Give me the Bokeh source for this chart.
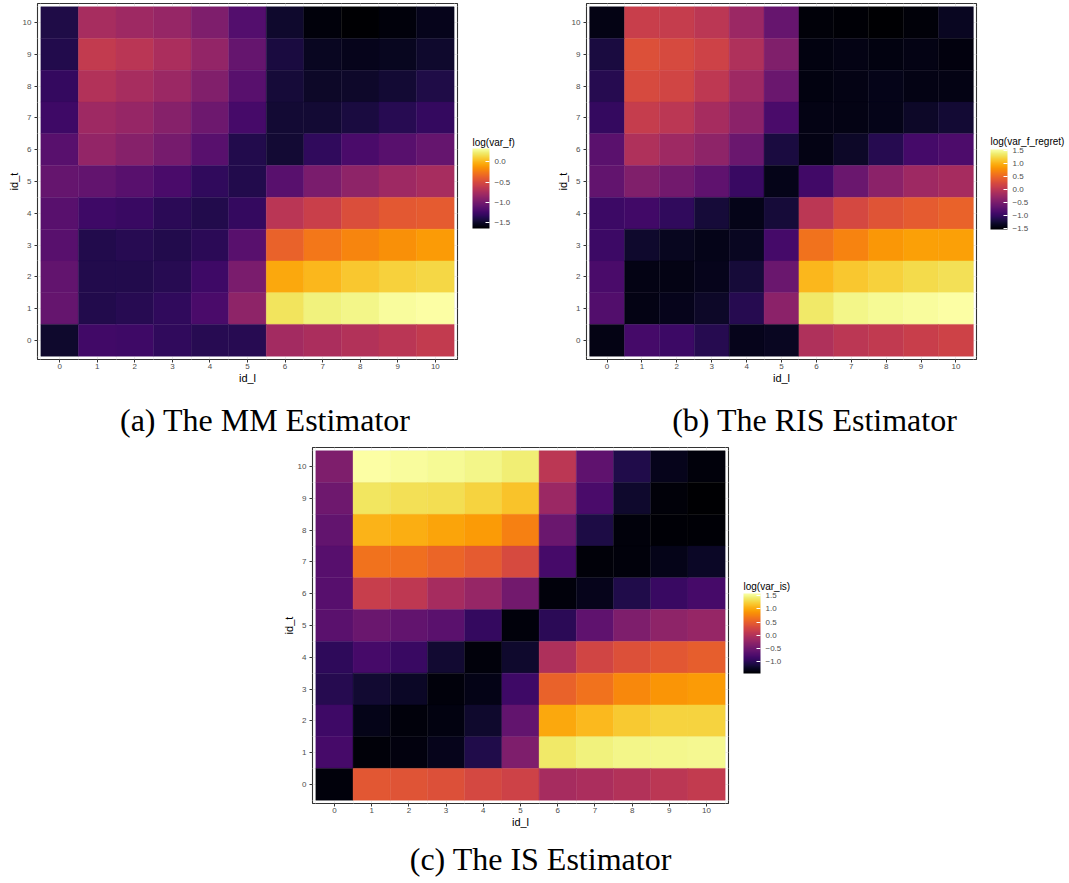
from bokeh.plotting import figure
from bokeh.models import (LinearColorMapper, ColorBar, FixedTicker, ColumnDataSource,
                          Div, Spacer, CustomJSTickFormatter, Label)
from bokeh.layouts import column, row
from bokeh.palettes import Inferno256
from bokeh.transform import transform
from bokeh.embed import file_html
from bokeh.resources import INLINE

id_l = list(range(11))
id_t_rows = list(range(10, -1, -1))  # rows listed from id_t = 10 down to 0

# log(var_f) -- MM estimator
mm_vals = [
    [-1.41, -0.76, -0.80, -0.84, -0.96, -1.17, -1.49, -1.61, -1.65, -1.61, -1.55],
    [-1.39, -0.62, -0.66, -0.74, -0.86, -1.08, -1.43, -1.53, -1.55, -1.54, -1.49],
    [-1.31, -0.70, -0.76, -0.82, -0.94, -1.14, -1.45, -1.51, -1.50, -1.47, -1.41],
    [-1.27, -0.80, -0.84, -0.92, -1.04, -1.23, -1.47, -1.47, -1.43, -1.37, -1.31],
    [-1.14, -0.86, -0.92, -1.00, -1.14, -1.39, -1.47, -1.33, -1.21, -1.14, -1.08],
    [-1.08, -1.10, -1.14, -1.21, -1.33, -1.39, -1.14, -0.98, -0.88, -0.80, -0.76],
    [-1.14, -1.27, -1.29, -1.35, -1.39, -1.31, -0.66, -0.58, -0.48, -0.42, -0.40],
    [-1.14, -1.39, -1.37, -1.39, -1.35, -1.14, -0.36, -0.26, -0.20, -0.15, -0.11],
    [-1.10, -1.39, -1.39, -1.37, -1.27, -0.98, -0.05, 0.01, 0.07, 0.11, 0.13],
    [-1.08, -1.39, -1.37, -1.33, -1.21, -0.88, 0.19, 0.25, 0.27, 0.31, 0.33],
    [-1.49, -1.25, -1.27, -1.33, -1.37, -1.37, -0.78, -0.74, -0.70, -0.66, -0.62],
]

# log(var_f_regret) -- RIS estimator
ris_vals = [
    [-1.43, 0.12, 0.09, 0.00, -0.25, -0.65, -1.49, -1.52, -1.55, -1.50, -1.36],
    [-1.21, 0.31, 0.25, 0.16, -0.09, -0.46, -1.46, -1.44, -1.46, -1.43, -1.47],
    [-1.12, 0.25, 0.19, 0.03, -0.22, -0.62, -1.46, -1.44, -1.41, -1.43, -1.43],
    [-1.02, 0.09, 0.00, -0.16, -0.37, -0.87, -1.44, -1.43, -1.41, -1.33, -1.27],
    [-0.74, -0.09, -0.22, -0.34, -0.62, -1.21, -1.43, -1.33, -1.12, -0.90, -0.84],
    [-0.68, -0.46, -0.56, -0.71, -0.99, -1.41, -0.93, -0.62, -0.37, -0.22, -0.16],
    [-0.96, -0.93, -1.05, -1.24, -1.41, -1.24, 0.00, 0.22, 0.34, 0.40, 0.47],
    [-0.96, -1.30, -1.38, -1.41, -1.36, -0.90, 0.59, 0.71, 0.84, 0.90, 0.90],
    [-0.87, -1.43, -1.43, -1.40, -1.24, -0.62, 1.05, 1.15, 1.21, 1.27, 1.30],
    [-0.81, -1.43, -1.40, -1.33, -1.12, -0.37, 1.36, 1.46, 1.49, 1.52, 1.55],
    [-1.43, -0.90, -0.96, -1.12, -1.40, -1.36, -0.09, 0.00, 0.06, 0.12, 0.16],
]

# log(var_is) -- IS estimator
is_vals = [
    [-0.39, 1.58, 1.55, 1.53, 1.49, 1.43, 0.07, -0.63, -1.06, -1.30, -1.39],
    [-0.51, 1.37, 1.34, 1.32, 1.25, 1.16, -0.18, -0.78, -1.21, -1.40, -1.45],
    [-0.60, 1.06, 1.03, 0.97, 0.91, 0.73, -0.54, -1.09, -1.39, -1.42, -1.42],
    [-0.69, 0.64, 0.61, 0.55, 0.46, 0.31, -0.81, -1.40, -1.39, -1.31, -1.24],
    [-0.69, 0.16, 0.10, -0.09, -0.21, -0.48, -1.39, -1.30, -1.06, -0.90, -0.81],
    [-0.66, -0.54, -0.60, -0.66, -0.93, -1.39, -1.00, -0.63, -0.39, -0.27, -0.21],
    [-0.97, -0.81, -0.90, -1.18, -1.39, -1.21, -0.03, 0.25, 0.37, 0.43, 0.49],
    [-1.03, -1.18, -1.24, -1.39, -1.33, -0.87, 0.52, 0.64, 0.79, 0.88, 0.91],
    [-0.87, -1.31, -1.39, -1.36, -1.21, -0.60, 1.00, 1.10, 1.19, 1.25, 1.26],
    [-0.81, -1.40, -1.37, -1.30, -1.06, -0.39, 1.40, 1.46, 1.49, 1.50, 1.52],
    [-1.39, 0.43, 0.40, 0.37, 0.28, 0.22, -0.09, -0.06, 0.00, 0.07, 0.13],
]

mm_ticks = [-1.5, -1.0, -0.5, 0.0]
ris_ticks = [-1.5, -1.0, -0.5, 0.0, 0.5, 1.0, 1.5]
is_ticks = [-1.0, -0.5, 0.0, 0.5, 1.0, 1.5]

captions = ["(a) The MM Estimator", "(b) The RIS Estimator", "(c) The IS Estimator"]

SANS = "Liberation Sans"


def heat(vals, width, height, mbl, mbr, mbt, mbb):
    xs, ys, vs = [], [], []
    for r, t in enumerate(id_t_rows):
        for c, l in enumerate(id_l):
            xs.append(l)
            ys.append(t)
            vs.append(vals[r][c])
    src = ColumnDataSource(dict(x=xs, y=ys, v=vs))
    mapper = LinearColorMapper(palette=Inferno256, low=min(vs), high=max(vs))
    p = figure(width=width, height=height, x_range=(-0.59, 10.59), y_range=(-0.605, 10.605),
               output_backend="svg", toolbar_location=None,
               min_border_left=mbl, min_border_right=mbr, min_border_top=mbt, min_border_bottom=mbb)
    p.rect('x', 'y', width=1, height=1, source=src,
           fill_color=transform('v', mapper), line_color=transform('v', mapper), line_width=0.4)
    for ax, lab in ((p.xaxis[0], "id_l"), (p.yaxis[0], "id_t")):
        ax.ticker = FixedTicker(ticks=id_l, minor_ticks=[i + 0.5 for i in range(-1, 11)])
        ax.axis_label = lab
        ax.axis_label_text_font = SANS
        ax.axis_label_text_font_size = "11px"
        ax.axis_label_text_font_style = "normal"
        ax.axis_label_text_color = "#000000"
        ax.axis_label_standoff = 0
        ax.major_label_text_font = SANS
        ax.major_label_text_font_size = "8px"
        ax.major_label_text_color = "#4d4d4d"
        ax.major_tick_line_color = "#333333"
        ax.major_tick_out = 3
        ax.major_tick_in = 0
        ax.minor_tick_line_color = None
        ax.axis_line_color = None
    p.xaxis[0].major_label_standoff = 0
    p.yaxis[0].major_label_standoff = 2
    p.grid.grid_line_color = "#ebebeb"
    p.grid.minor_grid_line_color = "#f4f4f4"
    p.outline_line_color = "#333333"
    p.outline_line_width = 1.1
    p.background_fill_color = "white"
    p.border_fill_color = "white"
    return p, mapper


def legend_fig(mapper, legend_title, ticks, width, height, cb_loc, title_loc):
    q = figure(width=width, height=height, x_range=(0, 1), y_range=(0, 1),
               output_backend="svg", toolbar_location=None,
               x_axis_location=None, y_axis_location=None,
               min_border_left=0, min_border_right=0, min_border_top=0, min_border_bottom=0)
    q.grid.visible = False
    q.outline_line_color = None
    q.background_fill_color = "white"
    q.border_fill_color = "white"
    fmt = CustomJSTickFormatter(code="return (tick < 0 ? '\\u2212' : '') + Math.abs(tick).toFixed(1);")
    cb = ColorBar(color_mapper=mapper, ticker=FixedTicker(ticks=ticks), formatter=fmt,
                  width=17, height=80, title=None,
                  major_label_text_font=SANS, major_label_text_font_size="8px",
                  major_label_text_color="#4d4d4d", label_standoff=5,
                  major_tick_line_color="white", major_tick_in=4, major_tick_out=0,
                  minor_tick_line_color=None, bar_line_color=None,
                  padding=0, location=cb_loc, background_fill_color=None)
    q.add_layout(cb, "center")
    lbl = Label(x=title_loc[0], y=title_loc[1], x_units="screen", y_units="screen",
                text=legend_title, text_font=SANS, text_font_size="10px",
                text_color="#000000", text_baseline="alphabetic", text_align="left")
    q.add_layout(lbl)
    return q


fa, ma = heat(mm_vals, 460, 395, 37, 3, 3, 36)
la = legend_fig(ma, "log(var_f)", mm_ticks, 85, 395, (12, 131), (12, 217))
fb, mb = heat(ris_vals, 434, 395, 41, 3, 3, 36)
lb = legend_fig(mb, "log(var_f_regret)", ris_ticks, 90, 395, (11, 130), (11, 218))
fc, mc = heat(is_vals, 461, 390, 42, 3, 2, 32)
lc = legend_fig(mc, "log(var_is)", is_ticks, 100, 390, (12, 130), (12, 217))

cap_style = {"font-family": "Liberation Serif", "font-size": "32px", "text-align": "center",
             "color": "#000000", "width": "100%"}


def cap(text, w, h):
    return Div(text=text, width=w, height=h, margin=0,
               styles=dict(cap_style, **{"line-height": f"{h}px"}))


layout = column(
    row(fa, la, fb, lb),
    row(cap(captions[0], 530, 50), Spacer(width=30, height=50), cap(captions[1], 509, 50)),
    row(Spacer(width=270, height=390), fc, lc),
    row(Spacer(width=12, height=48), cap(captions[2], 1057, 48)),
)

open("out.html", "w").write(file_html(layout, INLINE))
